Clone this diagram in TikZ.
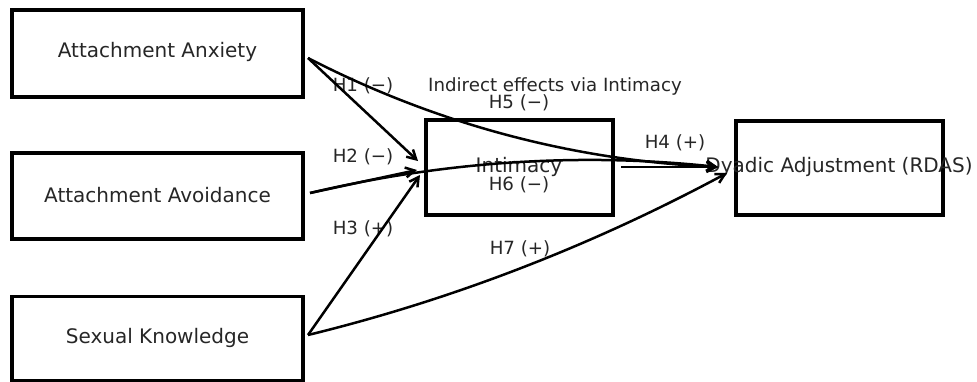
\documentclass[tikz,border=0pt]{standalone}
\usepackage{fontspec}
\setmainfont{DejaVu Sans}
\usetikzlibrary{arrows.meta}
\begin{document}
\begin{tikzpicture}[x=1pt,y=-1pt,
  box/.style={draw=black,line width=3.3pt,rectangle,inner sep=0pt,
    text=black!85,font=\fontsize{20}{24}\selectfont},
  lbl/.style={text=black!85,font=\fontsize{18.2}{22}\selectfont,inner sep=0pt},
  conn/.style={line width=2.5pt,-{Straight Barb[length=9pt,width=10pt,line width=2.5pt]}}
]
\useasboundingbox (0,0) rectangle (977,381);
% boxes
\node[box,minimum width=291pt,minimum height=87pt] (anx) at (157.5,53.5) {};
\node[box,minimum width=291pt,minimum height=86pt] (avo) at (157.5,196) {};
\node[box,minimum width=291pt,minimum height=84pt] (sex) at (157.5,338.5) {};
\node[box,minimum width=187pt,minimum height=95pt] (int) at (519.5,167.5) {};
\node[box,minimum width=207pt,minimum height=94pt] (dya) at (839.5,168) {};
% box texts
\node[box,draw=none] (tanx) at (157.5,52) {Attachment Anxiety};
\node[box,draw=none] (tavo) at (157.5,195) {Attachment Avoidance};
\node[box,draw=none] (tsex) at (157.5,338) {Sexual Knowledge};
\node[box,draw=none] (tint) at (519,167) {Intimacy};
\node[box,draw=none] (tdya) at (839,167) {Dyadic Adjustment (RDAS)};
% labels
\node[lbl] (h1) at (363,86) {H1 (−)};
\node[lbl] (h2) at (363,157) {H2 (−)};
\node[lbl] (h3) at (363,229) {H3 (+)};
\node[lbl] (h4) at (675,143) {H4 (+)};
\node[lbl] (h5) at (519,103) {H5 (−)};
\node[lbl] (h6) at (519,185) {H6 (−)};
\node[lbl] (h7) at (520,249) {H7 (+)};
\node[lbl] (ind) at (555,86) {Indirect effects via Intimacy};
% connector end points
\coordinate (anxo) at (308,58);
\coordinate (avoo) at (310,193);
\coordinate (sexo) at (308,335);
\coordinate (inti1) at (418,161);
\coordinate (inti2) at (417,170);
\coordinate (inti3) at (420,175);
\coordinate (into) at (621,167);
\coordinate (dyai) at (718,167);
\coordinate (dyai2) at (727,173);
% connectors
\draw[conn] (anxo) -- (inti1);
\draw[conn] (avoo) -- (inti2);
\draw[conn] (sexo) -- (inti3);
\draw[conn] (into) -- (dyai);
\draw[conn] (anxo) .. controls (436,124) and (572.7,160.3) .. (dyai);
\draw[conn] (avoo) .. controls (445.3,161) and (581.3,152.3) .. (dyai);
\draw[conn] (sexo) .. controls (455.3,299) and (594.3,244.3) .. (dyai2);
\end{tikzpicture}
\end{document}
